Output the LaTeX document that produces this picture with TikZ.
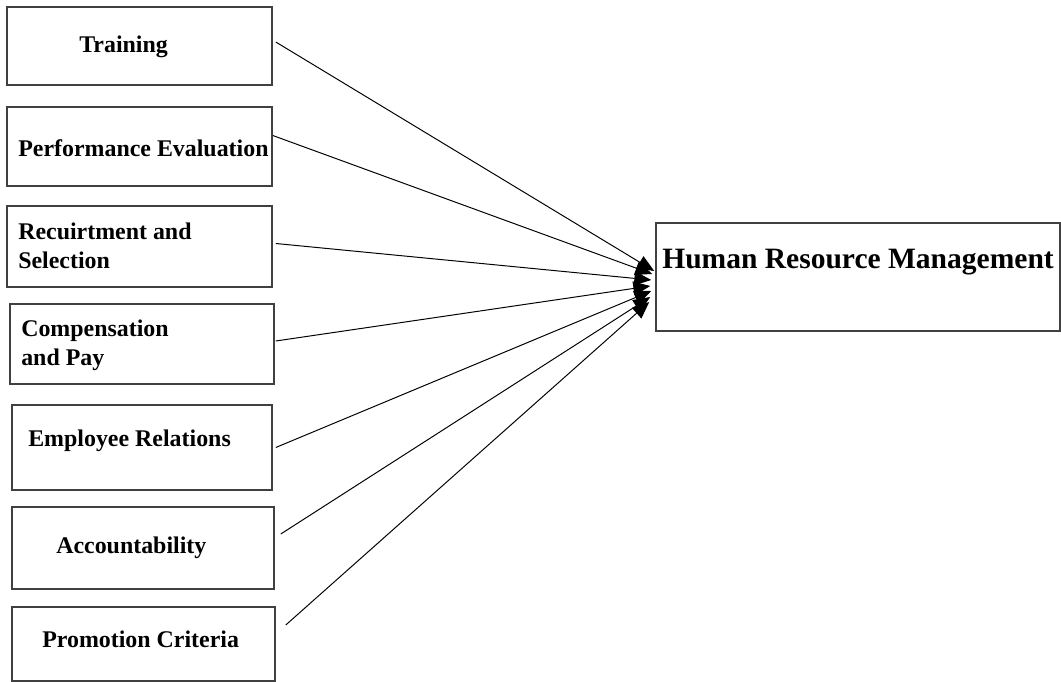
\documentclass[tikz,border=0pt]{standalone}
\usepackage{fontspec}
\setmainfont{Liberation Serif}
\usetikzlibrary{fit, arrows.meta, calc}

\begin{document}
\begin{tikzpicture}[
    x=0.025cm, y=-0.025cm,
    box/.style={draw=black!75, line width=1.1pt, inner sep=0pt},
    txt/.style={font=\fontsize{17}{21}\selectfont\bfseries, inner sep=0pt, anchor=base west, align=left},
    >={Triangle[length=12pt, width=10pt]},
    link/.style={->, line width=0.7pt}
  ]
  \useasboundingbox (0,0) rectangle (1061,682);

  % factor boxes
  \node[box, fit={(7,7) (272,85)}]      (train) {};
  \node[box, fit={(7,107) (272,186)}]   (perf)  {};
  \node[box, fit={(7,206) (272,287)}]   (recr)  {};
  \node[box, fit={(10,304) (274,384)}]  (comp)  {};
  \node[box, fit={(12,405) (272,490)}]  (empl)  {};
  \node[box, fit={(12,507) (274,589)}]  (acc)   {};
  \node[box, fit={(12,607) (275,681)}]  (prom)  {};
  \node[box, fit={(656,223) (1060,331)}] (hrm)  {};

  % labels (base of multi-line labels is their last line)
  \node[txt] (trainT) at (79,53)   {Training};
  \node[txt] (perfT)  at (18,157)  {Performance Evaluation};
  \node[txt] (recrT)  at (18,269)  {Recuirtment and\\Selection};
  \node[txt] (compT)  at (21,366)  {Compensation\\and Pay};
  \node[txt] (emplT)  at (28,447)  {Employee Relations};
  \node[txt] (accT)   at (56,553)  {Accountability};
  \node[txt] (promT)  at (42,647)  {Promotion Criteria};
  \node[txt, font=\fontsize{21}{25}\selectfont\bfseries] (hrmT) at (662,269) {Human Resource Management};

  % arrows into HRM
  \draw[link] ($(train.east)+(3,-4)$) -- ($(hrm.west)+(-1,-6)$);
  \draw[link] ($(perf.east)+(0,-11)$)  -- ($(hrm.west)+(-3,-3)$);
  \draw[link] ($(recr.east)+(3,-3)$)   -- ($(hrm.west)+(-4,3)$);
  \draw[link] ($(comp.east)+(1,-3)$)   -- ($(hrm.west)+(-5,9)$);
  \draw[link] ($(empl.east)+(3,0)$)    -- ($(hrm.west)+(-4,14)$);
  \draw[link] ($(acc.east)+(6,-14)$)   -- ($(hrm.west)+(-5,20)$);
  \draw[link] ($(prom.east)+(10,-19)$) -- ($(hrm.west)+(-6,25)$);

\end{tikzpicture}
\end{document}
